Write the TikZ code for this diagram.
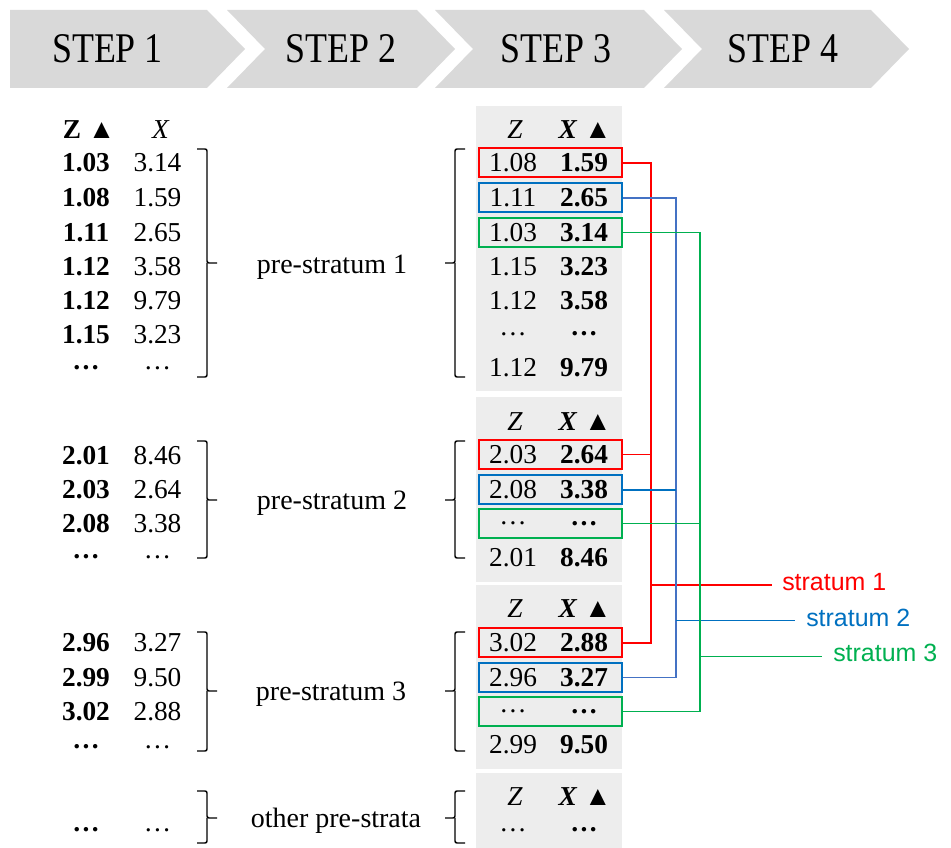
\documentclass[tikz,border=0pt]{standalone}
\usepackage{fontspec}
\setmainfont{Liberation Serif}
\newfontfamily\sansf{Liberation Sans}
\definecolor{chevgray}{HTML}{D9D9D9}
\definecolor{panelgray}{HTML}{EDEDED}
\definecolor{redc}{HTML}{FF0000}
\definecolor{bluec}{HTML}{0070C0}
\definecolor{bluel}{HTML}{4472C4}
\definecolor{greenc}{HTML}{00B050}
\newcommand\LRow[4]{%
  \node[numb] (#1z) at (86,#2) {#3};
  \node[num] (#1x) at (157.5,#2) {#4};}
\newcommand\RRow[4]{%
  \node[num] (#1z) at (513,#2) {#3};
  \node[numb] (#1x) at (584,#2) {#4};}
\begin{document}
\begin{tikzpicture}[x=0.75pt,y=-0.75pt,
  chev/.style={fill=chevgray},
  steptxt/.style={font=\fontsize{31.7}{38}\selectfont, inner sep=0},
  num/.style={font=\fontsize{20.5}{24}\selectfont, inner sep=0},
  numb/.style={font=\fontsize{20.5}{24}\selectfont\bfseries, inner sep=0},
  lab/.style={font=\fontsize{21}{25}\selectfont, inner sep=0, anchor=base},
  slab/.style={font=\sansf\fontsize{18.7}{22}\selectfont, inner sep=0, anchor=west},
  hbox/.style={draw=#1, line width=1.5pt, minimum width=107.25pt, minimum height=21.75pt, inner sep=0},
  conn/.style={draw=#1, line width=1.4pt},
  brace/.style={draw=black, line width=1.1pt, rounded corners=1.5pt},
]
\useasboundingbox (0,0) rectangle (951,848);
% header chevrons
\fill[chev] (10,10) -- (207,10) -- (245,49) -- (207,88) -- (10,88) -- cycle;
\fill[chev] (227,10) -- (417,10) -- (455,49) -- (417,88) -- (227,88) -- (265,49) -- cycle;
\fill[chev] (435,10) -- (644,10) -- (682,49) -- (644,88) -- (435,88) -- (473,49) -- cycle;
\fill[chev] (664,10) -- (871,10) -- (909,49) -- (871,88) -- (664,88) -- (702,49) -- cycle;
\node[steptxt] (st1) at (107.5,49) {\scalebox{0.85}[1]{STEP 1}};
\node[steptxt] (st2) at (341,49) {\scalebox{0.85}[1]{STEP 2}};
\node[steptxt] (st3) at (556,49) {\scalebox{0.85}[1]{STEP 3}};
\node[steptxt] (st4) at (783,49) {\scalebox{0.85}[1]{STEP 4}};
% step 3 panels
\fill[panelgray] (476,106) rectangle (622,391);
\fill[panelgray] (476,397) rectangle (622,582);
\fill[panelgray] (476,585) rectangle (622,769);
\fill[panelgray] (476,773) rectangle (622,848);
% highlight boxes
\node[hbox=redc] (rb1) at (550.5,163) {};
\node[hbox=bluec] (bb1) at (550.5,198) {};
\node[hbox=greenc] (gb1) at (550.5,232.5) {};
\node[hbox=redc] (rb2) at (550.5,454.5) {};
\node[hbox=bluec] (bb2) at (550.5,490) {};
\node[hbox=greenc] (gb2) at (550.5,523.5) {};
\node[hbox=redc] (rb3) at (550.5,643) {};
\node[hbox=bluec] (bb3) at (550.5,677.5) {};
\node[hbox=greenc] (gb3) at (550.5,711.5) {};
% left table
\node[num] (lhz) at (89,130) {\textbf{Z} ▲};
\node[num] (lhx) at (161,130) {\textit{X}};
\LRow{la}{163}{1.03}{3.14}
\LRow{lb}{198}{1.08}{1.59}
\LRow{lc}{232.5}{1.11}{2.65}
\LRow{ld}{267}{1.12}{3.58}
\LRow{le}{301}{1.12}{9.79}
\LRow{lf}{335}{1.15}{3.23}
\LRow{lg}{368}{…}{…}
\LRow{lh}{456}{2.01}{8.46}
\LRow{li}{490}{2.03}{2.64}
\LRow{lj}{524}{2.08}{3.38}
\LRow{lk}{557}{…}{…}
\LRow{ll}{643}{2.96}{3.27}
\LRow{lm}{678}{2.99}{9.50}
\LRow{ln}{712}{3.02}{2.88}
\LRow{lo}{747}{…}{…}
\LRow{lp}{830}{…}{…}
% left braces
\draw[brace] (197,149) -- (207,149) -- (207,263) -- (217,263);
\draw[brace] (207,263) -- (207,377) -- (197,377);
\draw[brace] (197,441) -- (207,441) -- (207,500) -- (217,500);
\draw[brace] (207,500) -- (207,558) -- (197,558);
\draw[brace] (197,632) -- (207,632) -- (207,691) -- (217,691);
\draw[brace] (207,691) -- (207,751) -- (197,751);
\draw[brace] (197,791) -- (207,791) -- (207,818) -- (217,818);
\draw[brace] (207,818) -- (207,843) -- (197,843);
% step 2 labels
\node[lab] (ps1) at (332,274) {pre-stratum 1};
\node[lab] (ps2) at (332,510) {pre-stratum 2};
\node[lab] (ps3) at (331,701) {pre-stratum 3};
\node[lab] (ps4) at (336,828) {other pre-strata};
% step 3 braces
\draw[brace] (465,149) -- (455,149) -- (455,263) -- (445,263);
\draw[brace] (455,263) -- (455,377) -- (465,377);
\draw[brace] (465,441) -- (455,441) -- (455,500) -- (445,500);
\draw[brace] (455,500) -- (455,558) -- (465,558);
\draw[brace] (465,632) -- (455,632) -- (455,691) -- (445,691);
\draw[brace] (455,691) -- (455,751) -- (465,751);
\draw[brace] (465,791) -- (455,791) -- (455,818) -- (445,818);
\draw[brace] (455,818) -- (455,843) -- (465,843);
% step 3 tables
\node[num] (p1z) at (515,130) {\textit{Z}};
\node[num] (p1x) at (585,130) {\textbf{\textit{X}} ▲};
\RRow{pa}{163}{1.08}{1.59}
\RRow{pb}{198}{1.11}{2.65}
\RRow{pc}{232.5}{1.03}{3.14}
\RRow{pd}{267}{1.15}{3.23}
\RRow{pe}{301}{1.12}{3.58}
\RRow{pf}{334}{…}{…}
\RRow{pg}{368}{1.12}{9.79}
\node[num] (p2z) at (515,422) {\textit{Z}};
\node[num] (p2x) at (585,422) {\textbf{\textit{X}} ▲};
\RRow{ph}{454.5}{2.03}{2.64}
\RRow{pi}{490}{2.08}{3.38}
\RRow{pj}{523.5}{…}{…}
\RRow{pk}{558}{2.01}{8.46}
\node[num] (p3z) at (515,609) {\textit{Z}};
\node[num] (p3x) at (585,609) {\textbf{\textit{X}} ▲};
\RRow{pl}{643}{3.02}{2.88}
\RRow{pm}{677.5}{2.96}{3.27}
\RRow{pn}{711.5}{…}{…}
\RRow{po}{745}{2.99}{9.50}
\node[num] (p4z) at (515,797) {\textit{Z}};
\node[num] (p4x) at (585,797) {\textbf{\textit{X}} ▲};
\RRow{pp}{830}{…}{…}
% connectors
\coordinate (rtop) at (651,163);
\coordinate (rbot) at (651,643);
\coordinate (rs) at (651,585);
\coordinate (re) at (772,585);
\draw[conn=redc] (rb1.east) -- (rtop) -- (rbot) -- (rb3.east);
\draw[conn=redc] (rb2.east) -- (rb2.east -| rtop);
\draw[conn=redc] (rs) -- (re);
\node[slab, text=redc] (sl1) at (782,582) {stratum 1};
\coordinate (btop) at (676,198);
\coordinate (bbot) at (676,677.5);
\coordinate (bs) at (676,620.5);
\coordinate (be) at (795,620.5);
\draw[conn=bluel] (bb1.east) -- (btop) -- (bbot) -- (bb3.east);
\draw[conn=bluec] (bb2.east) -- (bb2.east -| btop);
\draw[conn=bluec] (bs) -- (be);
\node[slab, text=bluec] (sl2) at (806,618) {stratum 2};
\coordinate (gtop) at (700,232.5);
\coordinate (gbot) at (700,711.5);
\coordinate (gs) at (700,656.5);
\coordinate (ge) at (822,656.5);
\draw[conn=greenc] (gb1.east) -- (gtop) -- (gbot) -- (gb3.east);
\draw[conn=greenc] (gb2.east) -- (gb2.east -| gtop);
\draw[conn=greenc] (gs) -- (ge);
\node[slab, text=greenc] (sl3) at (833,653) {stratum 3};
\end{tikzpicture}
\end{document}
